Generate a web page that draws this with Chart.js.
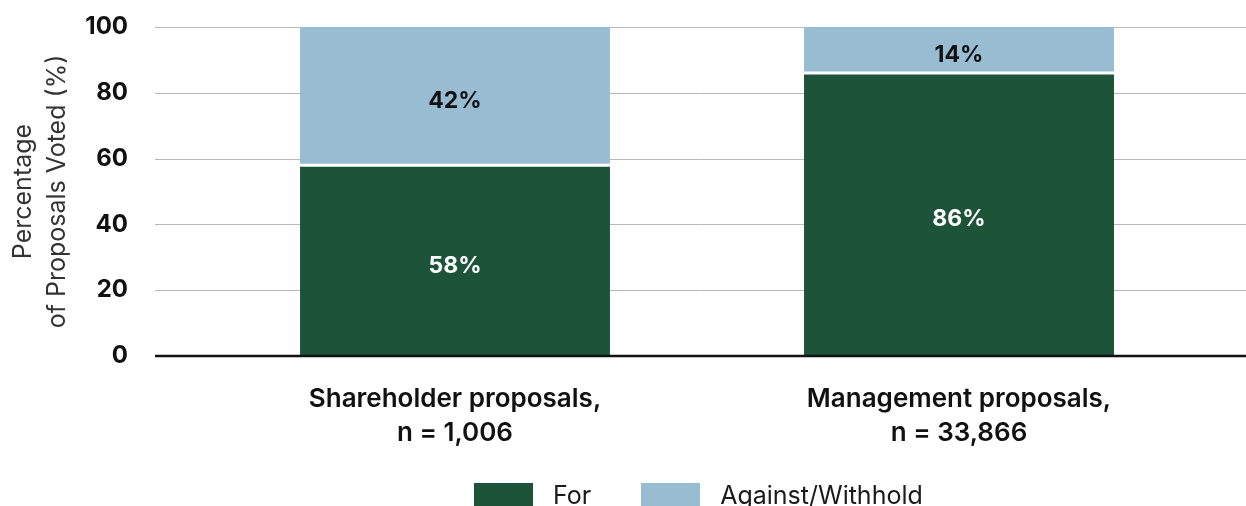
<!DOCTYPE html>
<html lang="en">
<head>
  <meta charset="UTF-8">
  <title>Proposals voted</title>
  <script src="https://cdn.jsdelivr.net/npm/chart.js"></script>
  <style>
    body {
      margin: 0;
      background-color: #ffffff;
      font-family: "Inter", sans-serif;
      overflow: hidden;
    }

    .wrap {
      position: relative;
      width: 1246px;
      height: 506px;
    }

    .legend {
      position: absolute;
      top: 483px;
      left: 474px;
      display: flex;
      align-items: flex-start;
      font-size: 25px;
      line-height: 24px;
      color: #1a1a1a;
    }

    .legend .item {
      display: flex;
      align-items: flex-start;
      margin-right: 50px;
    }

    .legend .box {
      width: 59px;
      height: 24px;
      margin-right: 20px;
    }
  </style>
</head>
<body>

<div class="wrap">
  <canvas id="votes"></canvas>
  <div class="legend" id="legend"></div>
</div>

<script>
  // data
  const categories = [
    ['Shareholder proposals,', 'n = 1,006'],
    ['Management proposals,', 'n = 33,866']
  ];
  const forVotes = [58, 86];
  const againstVotes = [42, 14];
  const seriesNames = ['For', 'Against/Withhold'];
  const yTicks = [0, 20, 40, 60, 80, 100];

  const green = 'rgb(29, 83, 56)';
  const blue = 'rgb(152, 189, 211)';

  // gridlines run wider than the bars area, so draw them by hand from the y scale
  const wideGrid = {
    id: 'wideGrid',
    beforeDatasetsDraw(chart) {
      const ctx = chart.ctx;
      const y = chart.scales.y;
      ctx.save();
      ctx.strokeStyle = '#b8b8b8';
      ctx.lineWidth = 1;
      yTicks.forEach(function (t) {
        if (t === 0) return;
        const py = Math.round(y.getPixelForValue(t)) + 0.5;
        ctx.beginPath();
        ctx.moveTo(155, py);
        ctx.lineTo(chart.width, py);
        ctx.stroke();
      });
      ctx.restore();
    },
    afterDatasetsDraw(chart) {
      const ctx = chart.ctx;
      const py = chart.scales.y.getPixelForValue(0);
      ctx.save();
      ctx.strokeStyle = '#111111';
      ctx.lineWidth = 2.5;
      ctx.beginPath();
      ctx.moveTo(155, py);
      ctx.lineTo(chart.width, py);
      ctx.stroke();
      ctx.restore();
    }
  };

  // percent labels in the middle of each segment
  const segLabels = {
    id: 'segLabels',
    afterDatasetsDraw(chart) {
      const ctx = chart.ctx;
      ctx.save();
      ctx.font = '700 23px Inter';
      ctx.textAlign = 'center';
      ctx.textBaseline = 'middle';
      chart.data.datasets.forEach(function (ds, i) {
        const meta = chart.getDatasetMeta(i);
        meta.data.forEach(function (bar, j) {
          const cy = (bar.y + bar.base) / 2 + 5;
          ctx.fillStyle = i === 0 ? '#ffffff' : '#111111';
          ctx.fillText(ds.data[j] + '%', bar.x, cy);
        });
      });
      ctx.restore();
    }
  };

  const config = {
    type: 'bar',
    data: {
      labels: categories,
      datasets: [
        {
          label: seriesNames[0],
          data: forVotes,
          backgroundColor: green,
          borderColor: '#ffffff',
          borderWidth: {top: 1.5, bottom: 0, left: 0, right: 0},
          borderSkipped: false
        },
        {
          label: seriesNames[1],
          data: againstVotes,
          backgroundColor: blue,
          borderColor: '#ffffff',
          borderWidth: {top: 0, bottom: 1.5, left: 0, right: 0},
          borderSkipped: false
        }
      ]
    },
    options: {
      responsive: true,
      maintainAspectRatio: false,
      animation: false,
      layout: {
        padding: {top: 27, right: 35, bottom: 0, left: 0}
      },
      datasets: {
        bar: {barPercentage: 1, categoryPercentage: 0.615}
      },
      plugins: {
        legend: {display: false},
        tooltip: {enabled: false}
      },
      scales: {
        x: {
          stacked: true,
          grid: {display: false, drawTicks: false},
          border: {display: false},
          ticks: {
            color: '#111111',
            padding: 26,
            maxRotation: 0,
            font: {family: 'Inter', size: 26, weight: '600', lineHeight: 1.3}
          },
          afterFit(scale) { scale.height = 150; }
        },
        y: {
          stacked: true,
          min: yTicks[0],
          max: yTicks[yTicks.length - 1],
          grid: {display: false, drawTicks: false},
          border: {display: false},
          ticks: {
            stepSize: yTicks[1] - yTicks[0],
            color: '#111111',
            padding: 75,
            font: {family: 'Inter', size: 24, weight: '700'}
          },
          title: {
            display: true,
            text: ['Percentage', 'of Proposals Voted (%)'],
            color: '#333333',
            padding: {top: 6, bottom: 0},
            font: {family: 'Inter', size: 25, weight: '400', lineHeight: 1.36}
          },
          afterFit(scale) {
            scale.width = 203;
            scale.paddingTop = 0;
            scale.paddingBottom = 0;
          }
        }
      }
    },
    plugins: [wideGrid, segLabels]
  };

  const chart = new Chart(document.getElementById('votes'), config);

  // legend below the chart, built from the datasets
  const legend = document.getElementById('legend');
  chart.data.datasets.forEach(function (ds) {
    const item = document.createElement('div');
    item.className = 'item';
    const box = document.createElement('span');
    box.className = 'box';
    box.style.backgroundColor = ds.backgroundColor;
    const txt = document.createElement('span');
    txt.textContent = ds.label;
    item.appendChild(box);
    item.appendChild(txt);
    legend.appendChild(item);
  });
</script>

</body>
</html>
